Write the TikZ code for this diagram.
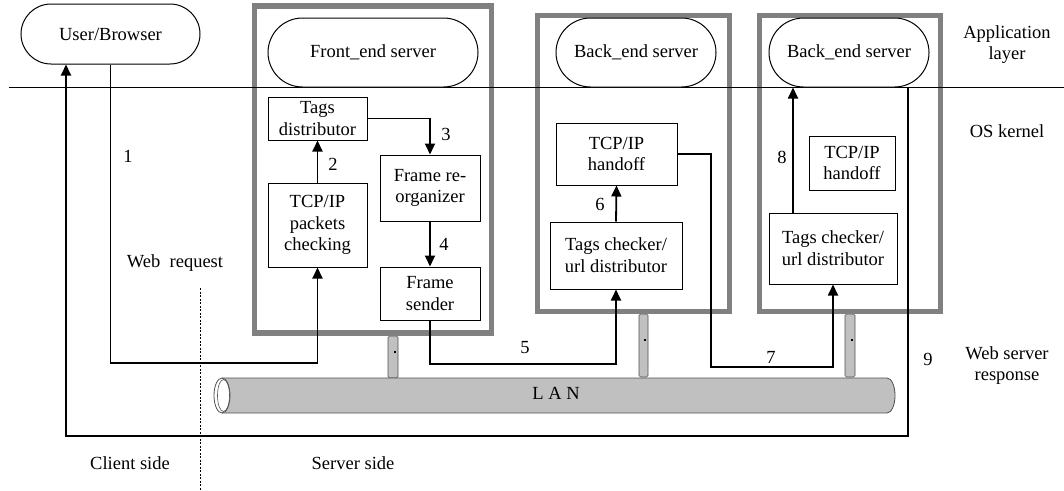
\documentclass[tikz,border=0pt]{standalone}
\usepackage{fontspec}
\setmainfont{Liberation Serif}
\usetikzlibrary{arrows.meta}
\definecolor{framegray}{HTML}{808080}
\definecolor{lanfill}{HTML}{C0C0C0}
\definecolor{lanedge}{HTML}{505050}
\begin{document}
\begin{tikzpicture}[x=1pt,y=-1pt,
  every node/.style={font=\fontsize{18.5}{21.7}\selectfont, inner sep=0pt, align=center},
  server/.style={draw=framegray, line width=5.5pt},
  proc/.style={draw, line width=1pt, fill=white},
  app/.style={draw, line width=1pt, fill=white, rounded corners=#1},
  flow/.style={line width=1.8pt, -{Triangle[length=11pt,width=10pt]}},
  tap/.style={draw=lanedge, fill=lanfill, line width=0.6pt, rounded corners=1.5pt},
  lbl/.style={anchor=base}
]
\useasboundingbox (0,0) rectangle (1064,490);

% taps from the servers down to the LAN
\node[tap, minimum width=10pt, minimum height=42pt] (tap1) at (393,357) {};
\node[tap, minimum width=9pt, minimum height=63pt] (tap2) at (643.5,345.5) {};
\node[tap, minimum width=10pt, minimum height=63pt] (tap3) at (850,345.5) {};
\fill (394,350.5) rectangle ++(2,2);
\fill (644,339) rectangle ++(2,2);
\fill (850.5,339) rectangle ++(2,2);

% LAN pipe
\path[fill=lanfill, draw=lanedge, line width=0.8pt] (222,378) -- (887,378)
  arc[start angle=90, end angle=-90, x radius=8pt, y radius=17.5pt] -- (222,413);
\draw[lanedge, fill=white, line width=0.8pt] (222,395.5) ellipse (8pt and 17.5pt);
\draw[lanedge, line width=0.6pt] (223.5,395.5) ellipse (6pt and 16pt);
\node[lbl] (lan) at (556,399) {L A N};

% server frames
\node[server, minimum width=237pt, minimum height=327pt] (fe) at (373,169.5) {};
\node[server, minimum width=192pt, minimum height=296pt] (be1) at (633.5,163.5) {};
\node[server, minimum width=181pt, minimum height=296pt] (be2) at (850,163.5) {};

% application / kernel boundary
\coordinate (layL) at (9,87);
\coordinate (layR) at (1064,87);
\draw[line width=0.8pt] (layL) -- (layR);

% client / server boundary
\coordinate (sideT) at (200,288);
\coordinate (sideB) at (200,490);
\draw[line width=0.8pt, dash pattern=on 2pt off 1.5pt] (sideT) -- (sideB);

% application layer
\node[app=30pt, minimum width=179pt, minimum height=60pt] (user) at (110.5,34) {User/Browser};
\node[app=34.5pt, minimum width=210pt, minimum height=69pt] (fes) at (373,52.5) {Front\_end server};
\node[app=34.5pt, minimum width=160pt, minimum height=69pt] (bes1) at (636,52.5) {Back\_end server};
\node[app=34.5pt, minimum width=160pt, minimum height=69pt] (bes2) at (849,52.5) {Back\_end server};

% kernel modules
\node[proc, minimum width=99pt, minimum height=43pt] (tags) at (317.5,118.5) {Tags\\distributor};
\node[proc, minimum width=99pt, minimum height=84pt] (tcp) at (317.5,225) {TCP/IP\\packets\\checking};
\node[proc, minimum width=100pt, minimum height=66pt] (freorg) at (430,188) {Frame re-\\organizer};
\node[proc, minimum width=100pt, minimum height=53pt] (fsend) at (430,293.5) {Frame\\sender};
\node[proc, minimum width=121pt, minimum height=62pt] (ho1) at (616.5,154) {TCP/IP\\handoff};
\node[proc, minimum width=132pt, minimum height=67pt] (tc1) at (616,255.5) {Tags checker/\\url distributor};
\node[proc, minimum width=86pt, minimum height=54pt] (ho2) at (852,163) {TCP/IP\\handoff};
\node[proc, minimum width=128pt, minimum height=71pt] (tc2) at (833,248.5) {Tags checker/\\url distributor};

% bend points
\coordinate (bus1) at (0,363);
\coordinate (bus5) at (0,364);
\coordinate (c7) at (711,367);
\coordinate (ret) at (66,436);

% request and response flow
\draw[flow] (user.south) |- (bus1 -| tcp.south) -- (tcp.south);
\draw[flow] (tcp.north) -- (tags.south);
\draw[flow] (tags.east) -| (freorg.north);
\draw[flow] (freorg.south) -- (fsend.north);
\draw[flow] (fsend.south) |- (bus5 -| tc1.south) -- (tc1.south);
\draw[flow] (tc1.north) -- (ho1.south);
\draw[flow] (ho1.east) -| (c7) -| (tc2.south);
\draw[flow] ([xshift=-40pt]tc2.north) coordinate (s8) -- (s8 |- bes2.south);
\draw[flow] ([xshift=59pt]bes2.south) coordinate (s9) |- (ret) -- (ret |- user.south);

% step numbers
\node[lbl] (n1) at (128,162) {1};
\node[lbl] (n2) at (333,170) {2};
\node[lbl] (n3) at (446,140) {3};
\node[lbl] (n4) at (444,250) {4};
\node[lbl] (n5) at (525,353) {5};
\node[lbl] (n6) at (600,210) {6};
\node[lbl] (n7) at (771,363) {7};
\node[lbl] (n8) at (782,163) {8};
\node[lbl] (n9) at (928,365) {9};

% captions
\node[lbl] (webreq) at (175,267) {Web~~request};
\node[lbl] (client) at (130,469) {Client side};
\node[lbl] (server) at (353,469) {Server side};
\node[lbl] (app1) at (1007,38) {Application};
\node[lbl] (app2) at (1007,59.5) {layer};
\node[lbl] (kern) at (1007,137) {OS kernel};
\node[lbl] (resp1) at (1007,359) {Web server};
\node[lbl] (resp2) at (1007,380.7) {response};
\end{tikzpicture}
\end{document}
